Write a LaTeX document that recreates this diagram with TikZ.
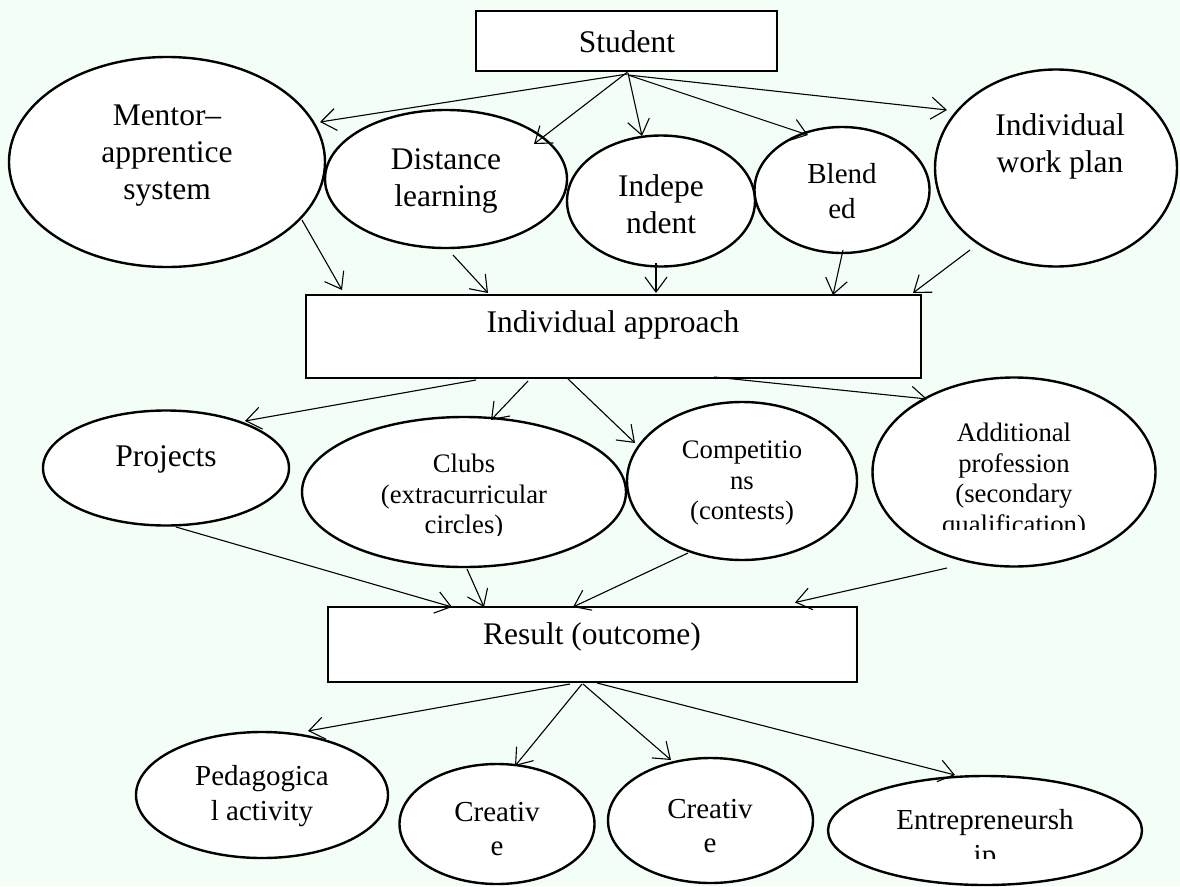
\documentclass[tikz,border=0pt]{standalone}
\usepackage{fontspec}
\setmainfont{Liberation Serif}
\usetikzlibrary{arrows.meta,shapes.geometric,calc}
\definecolor{bgmint}{RGB}{243,255,246}
\begin{document}
\begin{tikzpicture}[x=1pt,y=-1pt,
  shp/.style={draw=black,fill=white,line width=2.4pt},
  oval/.style 2 args={shp,ellipse,inner sep=0pt,minimum width=#1pt,minimum height=#2pt},
  box/.style 2 args={shp,rectangle,inner sep=0pt,minimum width=#1pt,minimum height=#2pt},
  big/.style={font=\fontsize{31.5}{37}\selectfont,align=center,inner sep=0pt},
  mid/.style={font=\fontsize{29}{34.5}\selectfont,align=center,inner sep=0pt},
  sml/.style={font=\fontsize{26.7}{30.5}\selectfont,align=center,inner sep=0pt},
  arr/.style={-{Straight Barb[length=15pt,width=22pt]},line width=1.1pt}
]
\fill[bgmint] (0,0) rectangle (1180,886);
\useasboundingbox (0,0) rectangle (1180,886);

% top level
\node[box={301}{60}] (student) at (626.5,41) {};
\node[oval={316}{210}] (mentor) at (167,162) {};
\node[oval={242}{138}] (dist) at (446,179) {};
\node[oval={188}{131}] (indep) at (661,201) {};
\node[oval={175}{126}] (blend) at (842,190) {};
\node[oval={242}{197}] (plan) at (1056,168) {};

% middle
\node[box={615}{83}] (ia) at (613.5,336.5) {};
\node[oval={246}{115}] (proj) at (166,468) {};
\node[oval={324}{150}] (clubs) at (464,492) {};
\node[oval={230}{158}] (comp) at (742,481) {};
\node[oval={283}{189}] (add) at (1014,472) {};

% bottom
\node[box={529}{75}] (res) at (592.5,644.5) {};
\node[oval={252}{126}] (ped) at (262,795) {};
\node[oval={195}{120}] (creA) at (497,824) {};
\node[oval={205}{125}] (creB) at (710.5,820.5) {};
\node[oval={314}{109}] (ent) at (985,830.5) {};

% texts
\node[big] (studentT) at (627,42) {Student};
\node[big] (mentorT) at (167,156) {Mentor–\\apprentice\\system};
\node[big] (distT) at (446,181) {Distance\\learning};
\node[big] (indepT) at (661,204) {Indepe\\ndent};
\node[mid] (blendT) at (842,191) {Blend\\ed};
\node[big] (planT) at (1060,146) {Individual\\work plan};
\node[big] (iaT) at (613,325) {Individual approach};
\node[big] (projT) at (166,459) {Projects};
\begin{scope}
\clip (302,417) rectangle (626,535);
\node[sml] (clubsT) at (464,497) {Clubs\\(extracurricular\\circles)};
\end{scope}
\node[sml] (compT) at (742,483) {Competitio\\ns\\(contests)};
\begin{scope}
\clip (873,378) rectangle (1156,529);
\node[sml] (addT) at (1014,481) {Additional\\profession\\(secondary\\qualification)};
\end{scope}
\node[big] (resT) at (592,637) {Result (outcome)};
\node[mid] (pedT) at (262,796) {Pedagogica\\l activity};
\node[mid] (creAT) at (497,829) {Creativ\\e};
\node[mid] (creBT) at (710,826) {Creativ\\e};
\begin{scope}
\clip (828,776) rectangle (1142,858);
\node[mid] (entT) at (985,840) {Entrepreneursh\\ip};
\end{scope}

% arrows from Student
\draw[arr] ($(student)+(1,33)$) -- ($(mentor)+(153,-40)$);
\draw[arr] ($(student)+(1,31)$) -- ($(dist)+(88,-35)$);
\draw[arr] ($(student)+(1.5,32)$) -- ($(indep)+(-19,-65)$);
\draw[arr] ($(student)+(1.5,34)$) -- ($(blend)+(-34,-55)$);
\draw[arr] ($(student)+(1.5,34)$) -- ($(plan)+(-109,-58)$);

% arrows into Individual approach
\draw[arr] ($(mentor)+(135,58)$) -- ($(ia)+(-271.5,-46.5)$);
\draw[arr] ($(dist)+(7,76)$) -- ($(ia)+(-125.5,-43.5)$);
\draw[arr] ($(indep)+(-5,62)$) -- ($(ia)+(42.5,-43.5)$);
\draw[arr] ($(blend)+(1,60)$) -- ($(ia)+(219.5,-41.5)$);
\draw[arr] ($(plan)+(-86,82)$) -- ($(ia)+(299.5,-43.5)$);

% arrows from Individual approach
\draw[arr] ($(ia)+(-137.5,43.5)$) -- ($(proj)+(79,-47)$);
\draw[arr] ($(ia)+(-85.5,44.5)$) -- ($(clubs)+(27,-72)$);
\draw[arr] ($(ia)+(-46.5,41.5)$) -- ($(comp)+(-107,-38)$);
\draw[arr] ($(ia)+(100.5,40.5)$) -- ($(add)+(-87,-73)$);

% arrows into Result
\draw[arr] ($(proj)+(10,59)$) -- ($(res)+(-140.5,-37.5)$);
\draw[arr] ($(clubs)+(3,77)$) -- ($(res)+(-108.5,-37.5)$);
\draw[arr] ($(comp)+(-54,72)$) -- ($(res)+(-19.5,-37.5)$);
\draw[arr] ($(add)+(-67,96)$) -- ($(res)+(202.5,-42)$);

% arrows from Result
\draw[arr] ($(res)+(-22.5,39.5)$) -- ($(ped)+(46,-64)$);
\draw[arr] ($(res)+(-10.5,39.5)$) -- ($(creA)+(18,-58)$);
\draw[arr] ($(res)+(-9.5,39.5)$) -- ($(creB)+(-39.5,-60.5)$);
\draw[arr] ($(res)+(4.5,38.5)$) -- ($(ent)+(-30,-55.5)$);
\end{tikzpicture}
\end{document}
